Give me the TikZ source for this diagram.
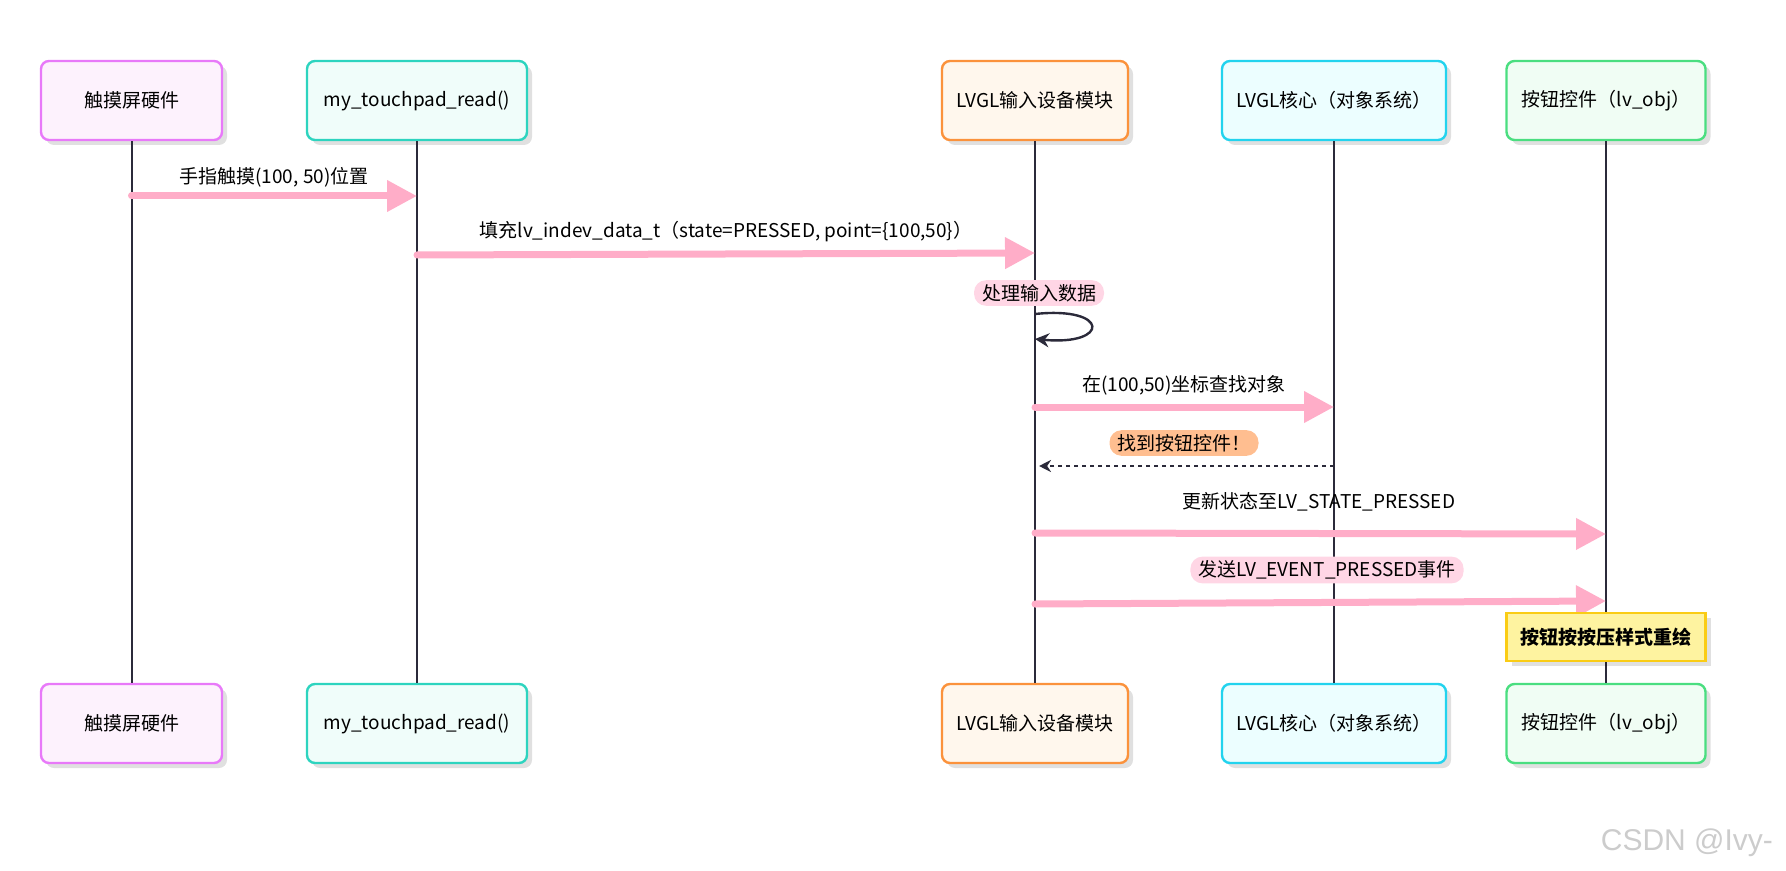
\documentclass[tikz,border=0pt]{standalone}
\usepackage{fontspec}
\setmainfont{Noto Sans CJK SC}
\newfontfamily\wmfont{Liberation Sans}
\usetikzlibrary{arrows.meta,shadows,positioning}

\definecolor{hwc}{HTML}{E879F9}
\definecolor{hwf}{HTML}{FDF2FD}
\definecolor{tpc}{HTML}{2DD4BF}
\definecolor{tpf}{HTML}{F0FDFA}
\definecolor{inc}{HTML}{FB923C}
\definecolor{inf}{HTML}{FFF7ED}
\definecolor{corec}{HTML}{22D3EE}
\definecolor{coref}{HTML}{ECFEFF}
\definecolor{btnc}{HTML}{4ADE80}
\definecolor{btnf}{HTML}{F0FDF4}
\definecolor{linecol}{HTML}{2B2A3A}
\definecolor{arrowpink}{HTML}{FFADC8}
\definecolor{tagpink}{HTML}{FFD6E5}
\definecolor{tagorange}{HTML}{FFBE90}
\definecolor{notec}{HTML}{FACC15}
\definecolor{notef}{HTML}{FEF3A0}

\begin{document}
\begin{tikzpicture}[x=0.5pt,y=-0.5pt,
    font=\fontsize{9.5}{11}\selectfont,
    actor/.style={draw,line width=1.2pt,rounded corners=4pt,minimum height=39.5pt,
      drop shadow={shadow xshift=2.5pt,shadow yshift=-2.5pt,opacity=0.12,fill=black}},
    life/.style={draw=linecol,line width=1pt},
    msg/.style={draw=arrowpink,line width=3.5pt,line cap=round,
      -{Triangle[length=15pt,width=15pt]}},
    reply/.style={draw=linecol,line width=1.2pt,dash pattern=on 2pt off 2pt,
      shorten >=2pt,-{Stealth[length=6pt,width=6pt]}},
    tag/.style={rounded corners=6pt,inner xsep=4pt,inner ysep=2pt}]
    \useasboundingbox (0,0) rectangle (1786,871);

    % Participants
    \node[actor,draw=hwc,fill=hwf,minimum width=90.5pt] (hw) at (131.5,100.5) {触摸屏硬件};
    \node[actor,draw=tpc,fill=tpf,minimum width=110pt] (tp) at (417,100.5) {my\_touchpad\_read()};
    \node[actor,draw=inc,fill=inf,minimum width=93pt] (in) at (1035,100.5) {LVGL输入设备模块};
    \node[actor,draw=corec,fill=coref,minimum width=112pt] (core) at (1334,100.5) {LVGL核心（对象系统）};
    \node[actor,draw=btnc,fill=btnf,minimum width=99.5pt] (btn) at (1606,100.5) {按钮控件（lv\_obj）};

    \node[actor,draw=hwc,fill=hwf,minimum width=90.5pt] (hwb) at (131.5,723.5) {触摸屏硬件};
    \node[actor,draw=tpc,fill=tpf,minimum width=110pt] (tpb) at (417,723.5) {my\_touchpad\_read()};
    \node[actor,draw=inc,fill=inf,minimum width=93pt] (inb) at (1035,723.5) {LVGL输入设备模块};
    \node[actor,draw=corec,fill=coref,minimum width=112pt] (coreb) at (1334,723.5) {LVGL核心（对象系统）};
    \node[actor,draw=btnc,fill=btnf,minimum width=99.5pt] (btnb) at (1606,723.5) {按钮控件（lv\_obj）};

    % Lifelines
    \foreach \p in {hw,tp,in,core,btn}
      \draw[life] (\p.south) -- (\p b.north);

    % Messages
    \draw[msg] (hw |- 0,196) -- (tp |- 0,196);
    \node (l1) at (274,177) {手指触摸(100, 50)位置};

    \draw[msg] (tp |- 0,255) -- (in |- 0,253);
    \node (l2) at (726,232) {填充lv\_indev\_data\_t（state=PRESSED, point=\{100,50\}）};

    \node[tag,fill=tagpink] (l3) at (1039,293) {处理输入数据};
    \draw[draw=linecol,line width=1.2pt,-{Stealth[length=7pt,width=7pt]}]
      (in |- 0,314) .. controls (1110,306) and (1110,346) .. (in |- 0,339);

    \draw[msg] (in |- 0,407) -- (core |- 0,407);
    \node[tag,fill=white] (l4) at (1184,385) {在(100,50)坐标查找对象};

    \node[tag,fill=tagorange] (l5) at (1184,443) {找到按钮控件！};
    \draw[reply] (core |- 0,466) -- (in |- 0,466);

    \draw[msg] (in |- 0,533) -- (btn |- 0,534);
    \node (l6) at (1319,502) {更新状态至LV\_STATE\_PRESSED};

    \node[tag,fill=tagpink] (l7) at (1327,570) {发送LV\_EVENT\_PRESSED事件};
    \draw[msg] (in |- 0,604) -- (btn |- 0,601);

    % Note
    \node[draw=notec,fill=notef,line width=1.2pt,minimum width=99.5pt,minimum height=24pt,
      font=\fontsize{9.5}{11}\selectfont\bfseries,
      drop shadow={shadow xshift=2.5pt,shadow yshift=-2.5pt,opacity=0.12,fill=black}]
      (redraw) at (1606,637) {按钮按按压样式重绘};

    % Watermark
    \node[anchor=east,text=gray!40,font=\wmfont\fontsize{15}{17}\selectfont] (wm) at (1780,843) {CSDN @Ivy-};
\end{tikzpicture}
\end{document}
